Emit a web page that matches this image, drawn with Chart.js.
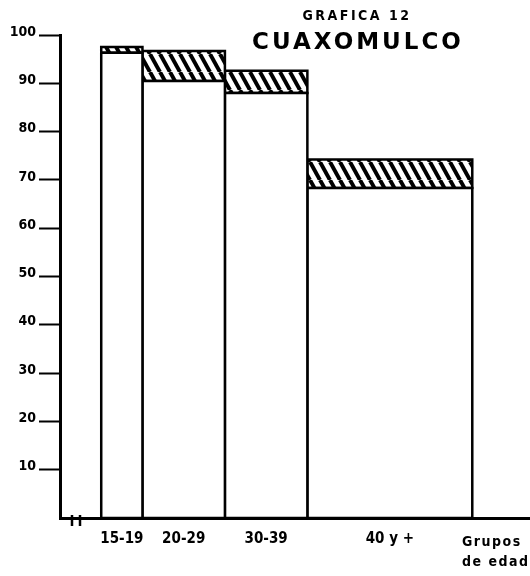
<!DOCTYPE html>
<html lang="es">
<head>
<meta charset="utf-8">
<title>Grafica 12 - Cuaxomulco</title>
<script src="https://cdn.jsdelivr.net/npm/chart.js@4.4.1/dist/chart.umd.min.js"></script>
<style>
    html, body { margin: 0; padding: 0; background: #fff; }
    #chartWrap { width: 530px; height: 576px; }
</style>
</head>
<body>
<div id="chartWrap"><canvas id="ageChart"></canvas></div>
<script>
// Age group edges (years) - bars are as wide as their age range
const ageEdges = [15, 20, 30, 40, 60];
const ageLabels = ["15-19", "20-29", "30-39", "40 y +"];

// White part of each bar (%)
const baseValues = [96.3, 90.5, 88.0, 68.3];
// Hatched part stacked on top (%)
const hatchValues = [1.2, 6.2, 4.6, 5.9];

// Y axis tick labels
const yTicks = [10, 20, 30, 40, 50, 60, 70, 80, 90, 100];

const titleLines = ["GRAFICA 12", "CUAXOMULCO"];
const axisNote = ["Grupos", "de edad"];

const FONT_COND = "'DejaVu Sans Condensed', 'DejaVu Sans', sans-serif";
const FONT_SANS = "'DejaVu Sans', sans-serif";

document.addEventListener("DOMContentLoaded", () => {
    renderChart();
});

// Diagonal "\\\" hatch pattern for the top segments
function makeHatch() {
    const w = 10, h = 18;
    const c = document.createElement("canvas");
    c.width = w;
    c.height = h;
    const ctx = c.getContext("2d");
    ctx.fillStyle = "#fff";
    ctx.fillRect(0, 0, w, h);
    ctx.strokeStyle = "#000";
    ctx.lineWidth = 4;
    for (const off of [-w, 0, w]) { // draw copies so the tile wraps cleanly
        ctx.beginPath();
        ctx.moveTo(off, 0);
        ctx.lineTo(off + w, h);
        ctx.stroke();
    }
    return ctx.createPattern(c, "repeat");
}

// Builds one closed outline per bar segment (in data units)
function segment(x0, x1, y0, y1) {
    return [
        { x: x0, y: y0 }, { x: x0, y: y1 },
        { x: x1, y: y1 }, { x: x1, y: y0 }, { x: x0, y: y0 }
    ];
}

// Title, break mark and "Grupos de edad" note
const decorPlugin = {
    id: "decor",
    afterDraw(chart) {
        const ctx = chart.ctx;
        const xs = chart.scales.x;
        const bottom = chart.chartArea.bottom;
        ctx.save();
        ctx.fillStyle = "#000";
        ctx.textAlign = "center";
        ctx.textBaseline = "middle";

        ctx.font = `bold 14px ${FONT_COND}`;
        ctx.letterSpacing = "2.5px";
        ctx.fillText(titleLines[0], 357, 16);

        ctx.font = `bold 23px ${FONT_SANS}`;
        ctx.letterSpacing = "3px";
        ctx.fillText(titleLines[1], 358, 43);

        // Note under the x axis
        ctx.letterSpacing = "1.5px";
        ctx.font = `bold 14px ${FONT_COND}`;
        ctx.textAlign = "left";
        ctx.fillText(axisNote[0], 462, 542);
        ctx.fillText(axisNote[1], 462, 562);

        // Axis break mark "#"
        ctx.strokeStyle = "#000";
        ctx.lineWidth = 2.5;
        [11.5, 12.4].forEach(v => {
            const px = Math.round(xs.getPixelForValue(v));
            ctx.beginPath();
            ctx.moveTo(px, bottom - 3);
            ctx.lineTo(px, bottom + 8);
            ctx.stroke();
        });
        ctx.restore();
    }
};

function renderChart() {
    const ctx = document.getElementById("ageChart");
    const hatch = makeHatch();
    const mids = ageEdges.slice(0, -1).map((e, i) => (e + ageEdges[i + 1]) / 2);

    const baseSets = baseValues.map((v, i) => ({
        label: ageLabels[i],
        data: segment(ageEdges[i], ageEdges[i + 1], 0, v),
        backgroundColor: "#fff",
        borderColor: "#000",
        borderWidth: 2.5,
        fill: "shape"
    }));

    const hatchSets = hatchValues.map((h, i) => ({
        label: ageLabels[i] + " (top)",
        data: segment(ageEdges[i], ageEdges[i + 1], baseValues[i], baseValues[i] + h),
        backgroundColor: hatch,
        borderColor: "#000",
        borderWidth: 2.5,
        fill: "shape"
    }));

    new Chart(ctx, {
        type: "scatter",
        data: { datasets: [...baseSets, ...hatchSets] },
        options: {
            responsive: true,
            maintainAspectRatio: false,
            animation: false,
            layout: { padding: { top: 35, right: 0, left: 0, bottom: 0 } },
            datasets: {
                scatter: {
                    showLine: true,
                    tension: 0,
                    pointRadius: 0,
                    pointHoverRadius: 0,
                    borderJoinStyle: "miter",
                    clip: false
                }
            },
            plugins: {
                legend: { display: false },
                tooltip: { enabled: false }
            },
            events: [],
            scales: {
                x: {
                    type: "linear",
                    min: 10,
                    max: 67,
                    afterFit: s => { s.height = 58; },
                    afterBuildTicks: s => { s.ticks = mids.map(v => ({ value: v })); },
                    border: { display: true, color: "#000", width: 3 },
                    grid: { display: false, drawTicks: false },
                    ticks: {
                        autoSkip: false,
                        maxRotation: 0,
                        padding: 12,
                        color: "#000",
                        font: { family: FONT_COND, size: 15, weight: "bold" },
                        callback: (value, index) => ageLabels[index]
                    }
                },
                y: {
                    min: 0,
                    max: 100,
                    afterFit: s => { s.width = 60; },
                    afterBuildTicks: s => { s.ticks = yTicks.map(v => ({ value: v })); },
                    border: { display: true, color: "#000", width: 3 },
                    grid: {
                        drawOnChartArea: false,
                        drawTicks: true,
                        tickLength: 21,
                        tickWidth: 2,
                        tickColor: "#000"
                    },
                    ticks: {
                        padding: 3,
                        labelOffset: -3,
                        color: "#000",
                        font: { family: FONT_COND, size: 14, weight: "bold" }
                    }
                }
            }
        },
        plugins: [decorPlugin]
    });
}
</script>
</body>
</html>
